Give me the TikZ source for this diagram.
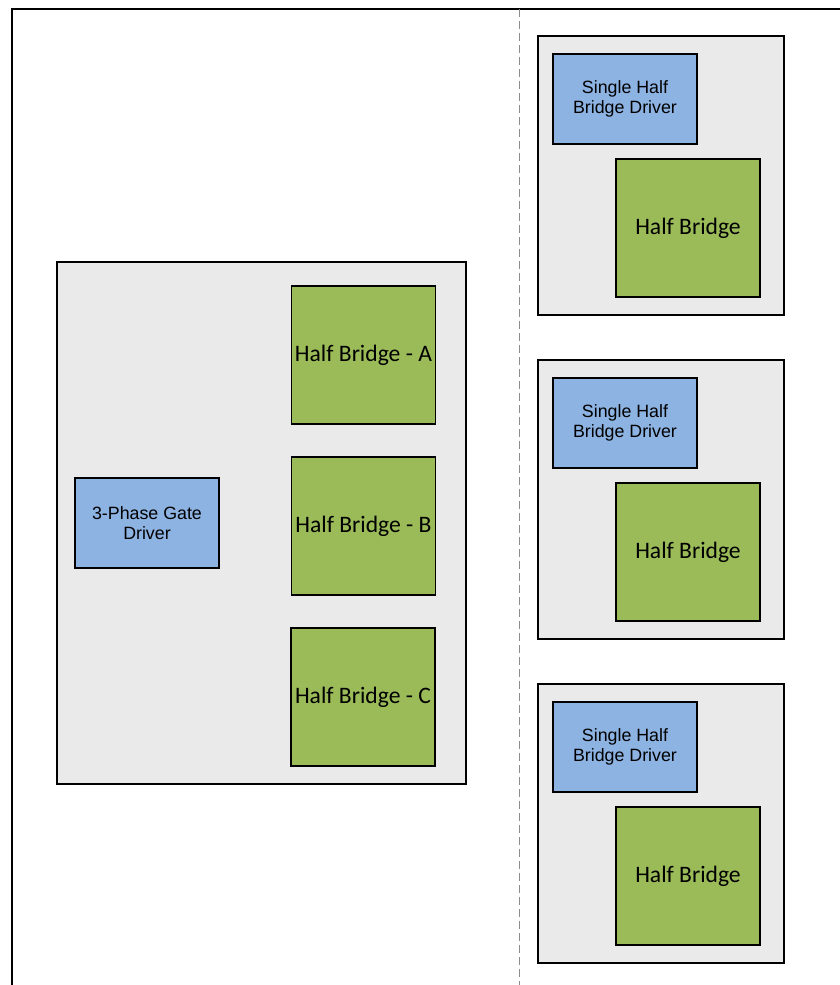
\documentclass[tikz,border=0pt]{standalone}
\usepackage{fontspec}
\setmainfont{Liberation Sans}
\newfontfamily\hbfont{Carlito}
\usepackage{xcolor}
\usepackage{tikz}
\usetikzlibrary{positioning}
\definecolor{panelgray}{HTML}{EAEAEA}
\definecolor{drvblue}{HTML}{8DB3E2}
\definecolor{hbgreen}{HTML}{9BBB59}
\definecolor{sepgray}{HTML}{8C8C8C}

\begin{document}
\begin{tikzpicture}[
  x=1pt, y=1pt,
  panel/.style={draw, line width=1.6pt, fill=panelgray, minimum width=#1},
  drv/.style={draw, line width=1.6pt, fill=drvblue, align=center, minimum width=144pt, minimum height=90pt, inner sep=0pt, font=\fontsize{17.8}{20}\selectfont},
  hb/.style={draw, line width=1.6pt, fill=hbgreen, align=center, minimum width=144pt, minimum height=138pt, inner sep=0pt, font=\hbfont\fontsize{23.6}{26}\selectfont},
  frame/.style={line width=1.6pt}
]
\useasboundingbox (0,0) rectangle (840,-985);
\fill[white] (0,0) rectangle (840,-985);
% frame and separator
\coordinate (ftop) at (840,-9);
\coordinate (fcorner) at (12,-9);
\coordinate (fbot) at (12,-985);
\draw[frame] (ftop) -- (fcorner) -- (fbot);
\coordinate (septop) at (519,-9);
\coordinate (sepbot) at (519,-985);
\draw[sepgray, line width=1pt, dash pattern=on 8pt off 4pt] (septop) -- (sepbot);
% three-phase module
\node[panel=409pt, minimum height=522pt] (threeph) at (261.5,-523) {};
\node[hb] (hba) at (363.5,-355) {Half Bridge - A};
\node[hb] (hbb) at (363.5,-526) {Half Bridge - B};
\node[hb] (hbc) at (363,-697) {Half Bridge - C};
\node[drv] (gatedrv) at (147,-523) {3-Phase Gate\\Driver};
% single half bridge modules
\node[panel=246pt, minimum height=279pt] (mod1) at (661,-175.5) {};
\node[drv] (drv1) at (625,-99) {Single Half\\Bridge Driver};
\node[hb] (hb1) at (688,-228) {Half Bridge};
\node[panel=246pt, minimum height=279pt] (mod2) at (661,-499.5) {};
\node[drv] (drv2) at (625,-423) {Single Half\\Bridge Driver};
\node[hb] (hb2) at (688,-552) {Half Bridge};
\node[panel=246pt, minimum height=279pt] (mod3) at (661,-823.5) {};
\node[drv] (drv3) at (625,-747) {Single Half\\Bridge Driver};
\node[hb] (hb3) at (688,-876) {Half Bridge};
\end{tikzpicture}
\end{document}
